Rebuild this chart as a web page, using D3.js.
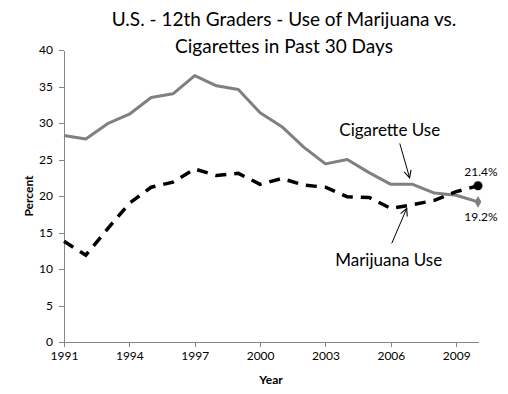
<!DOCTYPE html>
<html>

<head>
    <meta charset="utf-8">
    <style>
        body {
            margin: 0;
            background: #fff;
        }

        svg {
            font-family: Lato, 'Open Sans', sans-serif;
        }

        .axis path,
        .axis line {
            stroke: #868686;
            stroke-width: 1px;
            shape-rendering: crispEdges;
        }

        .axis text {
            fill: #000;
            font-size: 12px;
            font-family: Lato, sans-serif;
        }
    </style>
</head>

<body>
    <svg width="508" height="394"></svg>
</body>

<script src="https://d3js.org/d3.v7.min.js"></script>

<script>
    // data (MTF 12th grade, past 30 days)
    let years = [1991, 1992, 1993, 1994, 1995, 1996, 1997, 1998, 1999, 2000,
        2001, 2002, 2003, 2004, 2005, 2006, 2007, 2008, 2009, 2010]
    let cigarettes = [28.3, 27.8, 29.9, 31.2, 33.5, 34.0, 36.5, 35.1, 34.6, 31.4,
        29.5, 26.7, 24.4, 25.0, 23.2, 21.6, 21.6, 20.4, 20.1, 19.2]
    let marijuana = [13.8, 11.9, 15.5, 19.0, 21.2, 21.9, 23.7, 22.8, 23.1, 21.6,
        22.4, 21.5, 21.2, 19.9, 19.8, 18.3, 18.8, 19.4, 20.6, 21.4]
    let xTicks = [1991, 1994, 1997, 2000, 2003, 2006, 2009]
    let yTicks = [0, 5, 10, 15, 20, 25, 30, 35, 40]

    let titleLines = ["U.S. - 12th Graders  - Use of Marijuana vs.", "Cigarettes in Past 30 Days"]

    let width = 508;
    let height = 394;
    let margin = { top: 50, right: 30, bottom: 52, left: 64 };

    let svg = d3.select("svg")

    let x = d3.scaleLinear()
        .domain([1991, 2010])
        .range([margin.left, width - margin.right])

    let y = d3.scaleLinear()
        .domain([0, 40])
        .range([height - margin.bottom, margin.top])

    // axes
    let xAxis = svg.append("g")
        .attr("class", "axis")
        .attr("transform", `translate(0,${y(0)})`)
        .call(d3.axisBottom(x)
            .tickValues(xTicks)
            .tickFormat(d3.format("d"))
            .tickSize(5)
            .tickSizeOuter(0)
            .tickPadding(4))

    let yAxis = svg.append("g")
        .attr("class", "axis")
        .attr("transform", `translate(${x(1991)},0)`)
        .call(d3.axisLeft(y)
            .tickValues(yTicks)
            .tickSize(5)
            .tickSizeOuter(0)
            .tickPadding(6))

    // axis titles
    svg.append("text")
        .attr("x", (x(1991) + x(2010)) / 2)
        .attr("y", 384)
        .attr("text-anchor", "middle")
        .style("font-size", "12px")
        .style("font-weight", "bold")
        .text("Year")

    svg.append("text")
        .attr("transform", `translate(33,${y(20)}) rotate(-90)`)
        .attr("text-anchor", "middle")
        .style("font-size", "12px")
        .style("font-weight", "bold")
        .text("Percent")

    // title
    svg.selectAll(".title")
        .data(titleLines)
        .enter().append("text")
        .attr("class", "title")
        .attr("x", 284)
        .attr("y", (d, i) => 26 + i * 27)
        .attr("text-anchor", "middle")
        .style("font-size", "19px")
        .style("fill", "#000")
        .text(d => d)

    // lines
    let cigData = years.map((yr, i) => ({ year: yr, value: cigarettes[i] }))
    let marData = years.map((yr, i) => ({ year: yr, value: marijuana[i] }))

    let line = d3.line()
        .x(d => x(d.year))
        .y(d => y(d.value))

    svg.append("path")
        .datum(cigData)
        .attr("fill", "none")
        .attr("stroke", "#808080")
        .attr("stroke-width", 3)
        .attr("stroke-linejoin", "round")
        .attr("d", line)

    svg.append("path")
        .datum(marData)
        .attr("fill", "none")
        .attr("stroke", "#000")
        .attr("stroke-width", 3.5)
        .attr("stroke-dasharray", "11,8")
        .attr("d", line)

    // end markers
    let lastCig = cigData[cigData.length - 1]
    let lastMar = marData[marData.length - 1]

    svg.append("path")
        .attr("d", d3.symbol().type(d3.symbolDiamond).size(40))
        .attr("transform", `translate(${x(lastCig.year)},${y(lastCig.value)})`)
        .attr("fill", "#808080")

    svg.append("circle")
        .attr("cx", x(lastMar.year))
        .attr("cy", y(lastMar.value))
        .attr("r", 4.5)
        .attr("fill", "#000")

    svg.append("text")
        .attr("x", x(lastMar.year) + 3)
        .attr("y", y(lastMar.value) - 10)
        .attr("text-anchor", "middle")
        .style("font-size", "12px")
        .text(lastMar.value.toFixed(1) + "%")

    svg.append("text")
        .attr("x", x(lastCig.year) + 3)
        .attr("y", y(lastCig.value) + 19)
        .attr("text-anchor", "middle")
        .style("font-size", "12px")
        .text(lastCig.value.toFixed(1) + "%")

    // annotation labels + arrows (positions in data units)
    let labels = [
        { text: "Cigarette Use", year: 2005.95, value: 28.2 },
        { text: "Marijuana Use", year: 2005.9, value: 10.4 }
    ]
    let arrows = [
        { from: [2006.41, 27.2], to: [2006.86, 22.5] },
        { from: [2006.04, 13.5], to: [2006.73, 18.3] }
    ]

    svg.append("defs").append("marker")
        .attr("id", "arrow")
        .attr("viewBox", "0 0 10 10")
        .attr("refX", 9)
        .attr("refY", 5)
        .attr("markerWidth", 9)
        .attr("markerHeight", 9)
        .attr("markerUnits", "userSpaceOnUse")
        .attr("orient", "auto")
        .append("path")
        .attr("d", "M1,1 L9,5 L1,9")
        .attr("fill", "none")
        .attr("stroke", "#000")
        .attr("stroke-width", 1.2)

    svg.selectAll(".arrow")
        .data(arrows)
        .enter().append("line")
        .attr("class", "arrow")
        .attr("x1", d => x(d.from[0]))
        .attr("y1", d => y(d.from[1]))
        .attr("x2", d => x(d.to[0]))
        .attr("y2", d => y(d.to[1]))
        .attr("stroke", "#000")
        .attr("stroke-width", 1)
        .attr("marker-end", "url(#arrow)")

    svg.selectAll(".label")
        .data(labels)
        .enter().append("text")
        .attr("class", "label")
        .attr("x", d => x(d.year))
        .attr("y", d => y(d.value))
        .attr("text-anchor", "middle")
        .style("font-size", "17px")
        .text(d => d.text)
</script>

</html>
